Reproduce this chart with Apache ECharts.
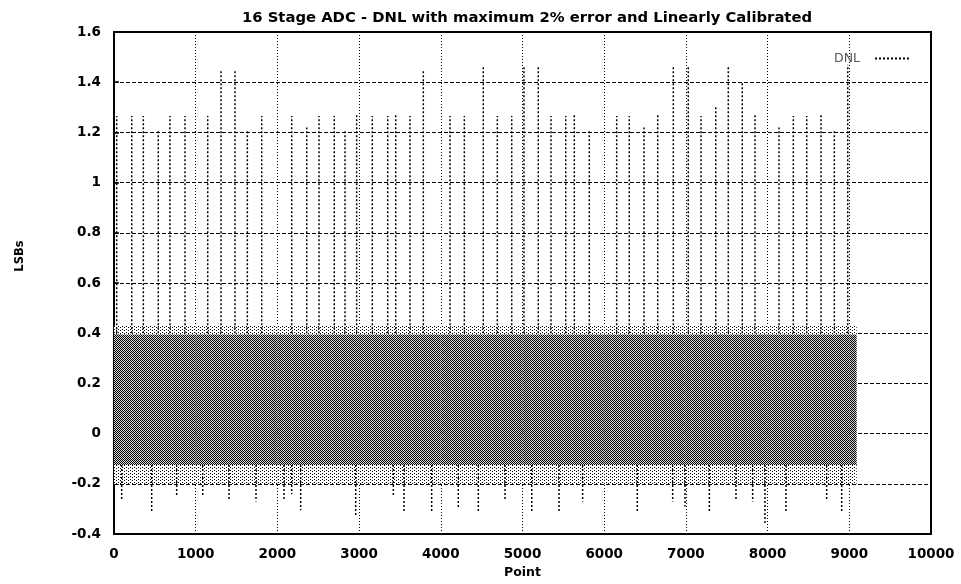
<!DOCTYPE html>
<html>
<head>
<meta charset="utf-8">
<script src="https://cdn.jsdelivr.net/npm/echarts@6/dist/echarts.min.js"></script>
<style>
  html, body { margin: 0; padding: 0; background: #fff; }
  #chart { width: 961px; height: 584px; }
</style>
</head>
<body>
<div id="chart"></div>
<script>
// 16-stage ADC differential non-linearity, in LSBs, per code point.
const titleText = '16 Stage ADC - DNL with maximum 2% error and Linearly Calibrated';
const xTickLabels = ['0', '1000', '2000', '3000', '4000', '5000', '6000', '7000', '8000', '9000', '10000'];
const yTickLabels = ['-0.4', '-0.2', '0', '0.2', '0.4', '0.6', '0.8', '1', '1.2', '1.4', '1.6'];

// Dense body of the DNL trace: envelope per block of code points.
const bandEdges   = [0, 1000, 2000, 3000, 4000, 5000, 6000, 7000, 8000, 9000, 9090];
const bandCoreLow = [-0.125, -0.125, -0.125, -0.125, -0.125, -0.125, -0.125, -0.125, -0.125, -0.125];
const bandCoreHigh = [0.395, 0.395, 0.395, 0.395, 0.395, 0.395, 0.395, 0.395, 0.395, 0.395];
const bandFringeLow = [-0.2, -0.2, -0.2, -0.2, -0.2, -0.2, -0.2, -0.2, -0.2, -0.2];
const bandFringeHigh = [0.43, 0.43, 0.43, 0.43, 0.43, 0.43, 0.43, 0.43, 0.43, 0.43];

// Positive DNL spikes (code point, LSBs).
const spikeUpX = [33, 217, 359, 542, 685, 869, 1147, 1310, 1481, 1632, 1808, 2175, 2359, 2509, 2696, 2827,
  2970, 3162, 3350, 3448, 3623, 3786, 4113, 4288, 4520, 4692, 4868, 5018, 5193, 5349, 5529, 5634, 5818,
  6153, 6307, 6487, 6655, 6846, 7029, 7185, 7365, 7519, 7690, 7846, 8140, 8315, 8479, 8654, 8817, 8981];
const spikeUpY = [1.265, 1.265, 1.265, 1.21, 1.265, 1.265, 1.265, 1.45, 1.45, 1.21, 1.265, 1.265, 1.22, 1.265, 1.265, 1.21,
  1.27, 1.265, 1.265, 1.27, 1.265, 1.45, 1.265, 1.265, 1.46, 1.265, 1.265, 1.46, 1.46, 1.265, 1.265, 1.27, 1.21,
  1.265, 1.265, 1.22, 1.27, 1.46, 1.46, 1.265, 1.305, 1.46, 1.40, 1.27, 1.22, 1.265, 1.265, 1.27, 1.21, 1.47];

// Negative DNL spikes (code point, LSBs).
const spikeDownX = [94, 461, 767, 1086, 1408, 1738, 2081, 2175, 2285, 2958, 3419, 3550, 3888, 4214, 4459,
  4786, 5113, 5447, 5736, 6405, 6838, 6989, 7287, 7613, 7817, 7968, 8225, 8723, 8907];
const spikeDownY = [-0.26, -0.315, -0.25, -0.245, -0.26, -0.27, -0.26, -0.24, -0.305, -0.33, -0.25, -0.315, -0.315, -0.30, -0.315,
  -0.262, -0.315, -0.31, -0.27, -0.31, -0.27, -0.29, -0.31, -0.26, -0.27, -0.36, -0.31, -0.26, -0.315];
const spikeUpBase = 0.4;
const spikeDownBase = -0.125;

// Halftone tiles used to fill the dense part of the trace.
function makeTile(rows, light) {
  const c = document.createElement('canvas');
  c.width = rows[0].length;
  c.height = rows.length;
  const ctx = c.getContext('2d');
  ctx.fillStyle = light;
  ctx.fillRect(0, 0, c.width, c.height);
  ctx.fillStyle = '#000';
  rows.forEach((r, y) => {
    for (let x = 0; x < r.length; x++) if (r[x] === 'X') ctx.fillRect(x, y, 1, 1);
  });
  return c;
}
const coreTile = makeTile(['X.', '.X'], '#d4d4d4');
const fringeTile = makeTile(['X...', '....', '..X.', 'X...', '....', '..X.'], '#fff');

// Band rectangles: [x0, x1, low, high, kind]
const bandRects = [];
for (let i = 0; i < bandEdges.length - 1; i++) {
  bandRects.push([bandEdges[i], bandEdges[i + 1], bandFringeLow[i], bandCoreLow[i], 0]);
  bandRects.push([bandEdges[i], bandEdges[i + 1], bandCoreHigh[i], bandFringeHigh[i], 0]);
  bandRects.push([bandEdges[i], bandEdges[i + 1], bandCoreLow[i], bandCoreHigh[i], 1]);
}

// Spike segments, broken apart with gaps.
const spikeData = [];
spikeUpX.forEach((x, i) => {
  spikeData.push([x, spikeUpBase], [x, spikeUpY[i]], [x, null]);
});
spikeDownX.forEach((x, i) => {
  spikeData.push([x, spikeDownBase], [x, spikeDownY[i]], [x, null]);
});

const FONT = 'DejaVu Sans';
const chart = echarts.init(document.getElementById('chart'), null, { renderer: 'canvas' });
chart.setOption({
  animation: false,
  backgroundColor: '#fff',
  title: {
    text: titleText,
    left: 522, textAlign: 'center',
    top: 6,
    textStyle: { fontFamily: FONT, fontWeight: 'bold', fontSize: 14.8, color: '#000' }
  },
  legend: {
    data: ['DNL'],
    right: 44, top: 47,
    align: 'right',
    itemWidth: 36, itemHeight: 10,
    itemStyle: { opacity: 0 },
    textStyle: { fontFamily: FONT, fontSize: 12.5, color: '#555', padding: [0, 10, 0, 0] }
  },
  grid: {
    left: 114, right: 30, top: 32, bottom: 46,
    show: true, borderColor: '#000', borderWidth: 2
  },
  xAxis: {
    type: 'value', min: 0, max: 10000, interval: 1000,
    name: 'Point', nameLocation: 'middle', nameGap: 28,
    nameTextStyle: { fontFamily: FONT, fontWeight: 'bold', fontSize: 12.5, color: '#000' },
    axisLine: { show: false },
    axisTick: { inside: true, length: 5, lineStyle: { color: '#000', width: 1.5 } },
    axisLabel: {
      margin: 13, color: '#000', fontFamily: FONT, fontWeight: 'bold', fontSize: 13.5,
      formatter: (v, i) => xTickLabels[i]
    },
    splitLine: { show: true, lineStyle: { color: '#000', width: 1, type: [1, 2] } }
  },
  yAxis: {
    type: 'value', min: -0.4, max: 1.6, interval: 0.2,
    name: 'LSBs', nameLocation: 'middle', nameGap: 88, nameRotate: 90,
    nameTextStyle: { fontFamily: FONT, fontWeight: 'bold', fontSize: 11.5, color: '#000', padding: [0, 0, 0, 54] },
    axisLine: { show: false },
    axisTick: { inside: true, length: 5, lineStyle: { color: '#000', width: 1.5 } },
    axisLabel: {
      margin: 13, color: '#000', fontFamily: FONT, fontWeight: 'bold', fontSize: 13.5,
      formatter: (v, i) => yTickLabels[i]
    },
    splitLine: { show: true, lineStyle: { color: '#000', width: 1, type: [4, 2] } }
  },
  series: [
    {
      name: 'DNL band',
      type: 'custom',
      data: bandRects,
      encode: { x: [0, 1], y: [2, 3] },
      renderItem: function (params, api) {
        const p0 = api.coord([api.value(0), api.value(3)]);
        const p1 = api.coord([api.value(1), api.value(2)]);
        const tile = api.value(4) === 1 ? coreTile : fringeTile;
        return {
          type: 'rect',
          shape: { x: p0[0], y: p0[1], width: p1[0] - p0[0], height: p1[1] - p0[1] },
          style: { fill: { image: tile, repeat: 'repeat' }, stroke: null }
        };
      },
      silent: true,
      z: 2
    },
    {
      name: 'DNL',
      type: 'line',
      data: spikeData,
      symbol: 'none',
      connectNulls: false,
      lineStyle: { color: '#000', width: 1.5, type: [2, 2] },
      itemStyle: { color: '#000' },
      z: 3
    }
  ]
});
</script>
</body>
</html>
